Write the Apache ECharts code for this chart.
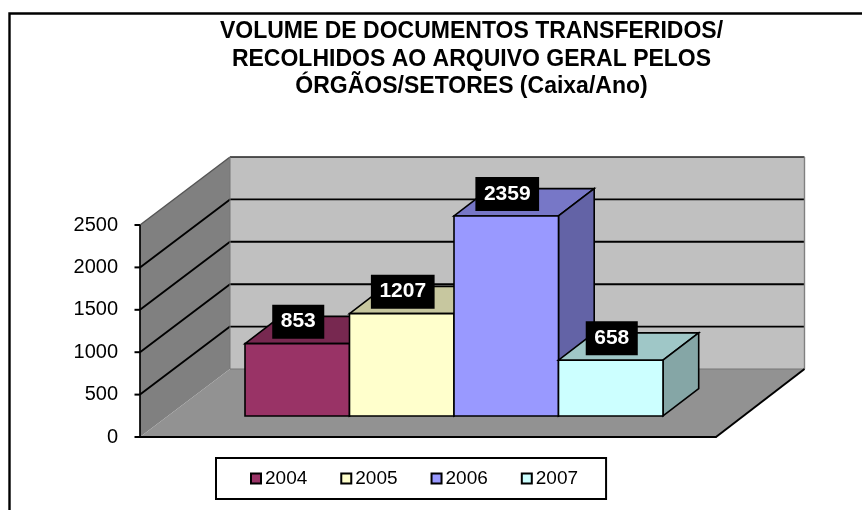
<!DOCTYPE html>
<html>
<head>
<meta charset="utf-8">
<style>html,body{margin:0;padding:0;background:#fff;overflow:hidden}#c{width:862px;height:510px}</style>
<script src="https://cdn.jsdelivr.net/npm/echarts@6/dist/echarts.min.js"></script>
</head>
<body>
<div id="c"></div>
<script>
const titleLines = ['VOLUME DE DOCUMENTOS TRANSFERIDOS/', 'RECOLHIDOS AO ARQUIVO GERAL PELOS', 'ÓRGÃOS/SETORES (Caixa/Ano)'];
const years = ['2004', '2005', '2006', '2007'];
const values = [853, 1207, 2359, 658];
const colors = ['#993366', '#ffffcc', '#9999ff', '#ccffff'];
const wallTicks = [500, 1000, 1500, 2000];
const FONT = '"Liberation Sans", Arial, sans-serif';

// projection of the 3D look, in screen pixels
const WALL_DX_L = 90, WALL_DX_R = 88.5, WALL_DY = -68;
const FRONT_DX = 26, FRONT_DY = -21;
const BOX_DX = 35.7, BOX_DY = -27.3;
const BAR_SHARE = 104.5 / 576;

function shade(hex, k) {
  const n = parseInt(hex.slice(1), 16);
  const c = [n >> 16 & 255, n >> 8 & 255, n & 255].map(v => Math.round(v * k));
  return 'rgb(' + c.join(',') + ')';
}
function poly(pts, fill, stroke, w) {
  return { type: 'polygon', shape: { points: pts }, style: { fill: fill, stroke: stroke || null, lineWidth: w || 0, lineJoin: 'miter' } };
}
function line(pts, stroke, w) {
  return { type: 'polyline', shape: { points: pts }, style: { fill: null, stroke: stroke, lineWidth: w, lineJoin: 'round' } };
}

function renderWalls(params, api) {
  const o = api.coord([0, 0]);
  const band = api.size([1, 0])[0];
  const top = api.coord([0, 2500])[1];
  const x0 = o[0] - band / 2, x1 = o[0] + band / 2, y0 = o[1];
  const bx0 = x0 + WALL_DX_L, bx1 = x1 + WALL_DX_R;
  const children = [
    poly([[bx0, top + WALL_DY], [bx1, top + WALL_DY], [bx1, y0 + WALL_DY], [bx0, y0 + WALL_DY]], '#c0c0c0'),
    poly([[x0, top], [bx0, top + WALL_DY], [bx0, y0 + WALL_DY], [x0, y0]], '#808080'),
    poly([[x0, y0], [bx0, y0 + WALL_DY], [bx1, y0 + WALL_DY], [x1, y0]], '#929292')
  ];
  wallTicks.forEach(function (t) {
    const y = api.coord([0, t])[1];
    children.push(line([[x0, y], [bx0, y + WALL_DY], [bx1, y + WALL_DY]], '#000', 1.9));
  });
  children.push(line([[x0, top], [bx0, top + WALL_DY]], '#555', 1.4));
  children.push(line([[bx0, top + WALL_DY], [bx1, top + WALL_DY]], '#222', 1.6));
  children.push(line([[bx1, top + WALL_DY], [bx1, y0 + WALL_DY]], '#808080', 1.4));
  children.push(line([[bx0, top + WALL_DY], [bx0, y0 + WALL_DY]], '#777', 1));
  children.push(line([[bx0, y0 + WALL_DY], [bx1, y0 + WALL_DY]], '#777', 1));
  children.push(line([[x1, y0], [bx1, y0 + WALL_DY]], '#000', 2));
  // value axis spine and outward ticks sit on top of the side wall
  children.push(line([[x0, top], [x0, y0]], '#000', 1.7));
  [0].concat(wallTicks, [2500]).forEach(function (t) {
    const y = api.coord([0, t])[1];
    children.push(line([[x0 - 5.5, y], [x0, y]], '#000', 2));
  });
  return { type: 'group', children: children };
}

function renderBar(params, api) {
  const i = params.seriesIndex - 1;
  const base = api.coord([0, 0]);
  const head = api.coord([0, api.value(1)]);
  const w = api.size([1, 0])[0] * BAR_SHARE;
  const xl = base[0] + FRONT_DX + (i - years.length / 2) * w;
  const xr = xl + w;
  const yb = base[1] + FRONT_DY;
  const yt = head[1] + FRONT_DY;
  const c = colors[i];
  return {
    type: 'group',
    children: [
      poly([[xl, yt], [xr, yt], [xr + BOX_DX, yt + BOX_DY], [xl + BOX_DX, yt + BOX_DY]], shade(c, 0.78), '#000', 1.6),
      poly([[xr, yb], [xr, yt], [xr + BOX_DX, yt + BOX_DY], [xr + BOX_DX, yb + BOX_DY]], shade(c, 0.65), '#000', 1.6),
      poly([[xl, yb], [xr, yb], [xr, yt], [xl, yt]], c, '#000', 1.6),
      {
        type: 'text',
        z2: 10,
        style: {
          x: (xl + xr) / 2 + 1, y: yt - 22,
          text: String(api.value(1)),
          fill: '#fff',
          font: 'bold 21px ' + FONT,
          align: 'center', verticalAlign: 'middle',
          backgroundColor: '#000',
          padding: [7, 8.5, 6, 8.5]
        }
      }
    ]
  };
}

const series = [{
  type: 'custom', name: 'walls', silent: true, z: 1,
  data: [[0, 0]], renderItem: renderWalls, encode: { x: 0, y: 1 }
}];
years.forEach(function (y, i) {
  series.push({
    type: 'custom', name: y, silent: true, z: 2 + i,
    itemStyle: { color: colors[i] },
    data: [[0, values[i]]], renderItem: renderBar, encode: { x: 0, y: 1 }
  });
});

const chart = echarts.init(document.getElementById('c'), null, { renderer: 'canvas' });
chart.setOption({
  animation: false,
  backgroundColor: '#fff',
  title: {
    text: titleLines.join('\n'),
    left: 471.5, top: 18, textAlign: 'center', padding: 0,
    textStyle: { fontFamily: FONT, fontSize: 23, fontWeight: 'bold', color: '#000', lineHeight: 27.5 }
  },
  legend: {
    data: years, left: 216, top: 458,
    orient: 'horizontal',
    icon: 'rect', itemWidth: 10, itemHeight: 10, itemGap: 33,
    padding: [11, 28, 11, 34],
    selectedMode: false,
    backgroundColor: '#fff', borderColor: '#000', borderWidth: 2,
    itemStyle: { borderColor: '#000', borderWidth: 2 },
    textStyle: { fontFamily: FONT, fontSize: 19, color: '#000', padding: [0, 0, 0, -1] }
  },
  grid: { left: 140, top: 225, width: 576, height: 212, containLabel: false },
  xAxis: {
    type: 'category', data: [''], z: 10,
    axisLine: { lineStyle: { color: '#000', width: 2 } },
    axisTick: { show: false }, axisLabel: { show: false }, splitLine: { show: false }
  },
  yAxis: {
    type: 'value', min: 0, max: 2500, interval: 500,
    axisLine: { show: false },
    axisTick: { show: false },
    axisLabel: {
      fontFamily: FONT, fontSize: 20, color: '#000', margin: 22,
      padding: [9, 0, 0, 0],
      formatter: function (v) { return String(v); }
    },
    splitLine: { show: false }
  },
  series: series,
  graphic: [{
    type: 'rect', silent: true, z: 100,
    shape: { x: 9.5, y: 13.5, width: 900, height: 600 },
    style: { fill: null, stroke: '#000', lineWidth: 2.4 }
  }]
});
</script>
</body>
</html>
